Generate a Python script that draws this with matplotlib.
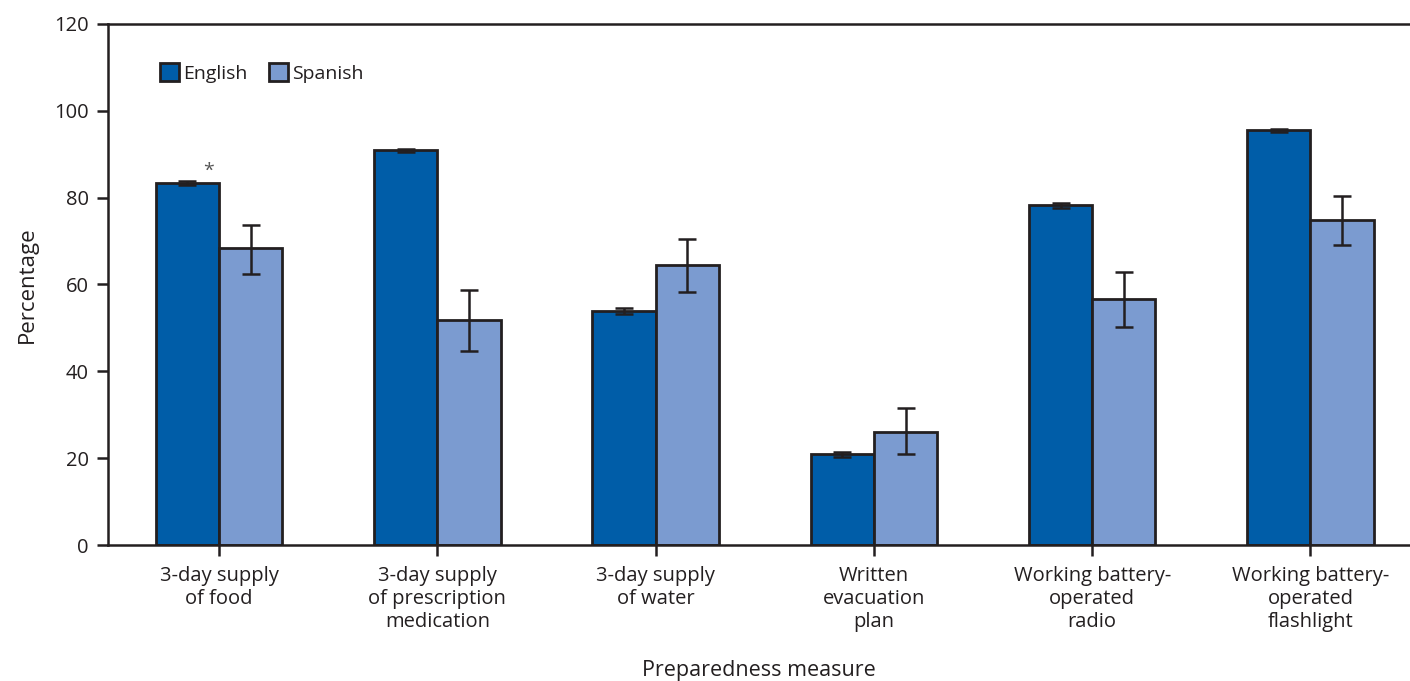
import numpy as np
import matplotlib
matplotlib.use('Agg')
import matplotlib.pyplot as plt

plt.rcParams['font.family'] = ['Open Sans', 'DejaVu Sans']

categories = ['3-day supply\nof food',
              '3-day supply\nof prescription\nmedication',
              '3-day supply\nof water',
              'Written\nevacuation\nplan',
              'Working battery-\noperated\nradio',
              'Working battery-\noperated\nflashlight']
english = [83.4, 90.9, 53.9, 20.9, 78.2, 95.5]
english_lo = [82.9, 90.6, 53.3, 20.3, 77.7, 95.1]
english_hi = [83.9, 91.2, 54.5, 21.5, 78.7, 95.9]
spanish = [68.3, 51.8, 64.5, 26.0, 56.6, 74.9]
spanish_lo = [62.4, 44.7, 58.2, 20.9, 50.1, 69.1]
spanish_hi = [73.7, 58.8, 70.4, 31.5, 62.8, 80.3]
yticks = [0, 20, 40, 60, 80, 100, 120]

c_en = '#005DA8'
c_sp = '#7B9BD0'
dark = '#231F20'

fig = plt.figure(figsize=(14.1, 6.81), dpi=100)
ax = fig.add_axes([0.0768, 0.1997, 0.9232, 0.7651])

x = np.arange(len(categories))
w = 0.29
en = np.array(english)
sp = np.array(spanish)
en_err = [en - np.array(english_lo), np.array(english_hi) - en]
sp_err = [sp - np.array(spanish_lo), np.array(spanish_hi) - sp]

ax.bar(x - w / 2, en, w, color=c_en, edgecolor=dark, linewidth=2.0, label='English', zorder=2)
ax.bar(x + w / 2, sp, w, color=c_sp, edgecolor=dark, linewidth=2.0, label='Spanish', zorder=2)
ax.errorbar(x - w / 2, en, yerr=en_err, fmt='none', ecolor=dark, elinewidth=1.8,
            capsize=6.5, capthick=1.8, zorder=3)
ax.errorbar(x + w / 2, sp, yerr=sp_err, fmt='none', ecolor=dark, elinewidth=1.8,
            capsize=6.5, capthick=1.8, zorder=3)

# significance marker
ax.text(-0.05, english[0] + 0.8, '*', ha='center', va='bottom', fontsize=14, color='#555555')

ax.set_xlim(-0.507, 5.456)
ax.set_ylim(0, 120)
ax.set_yticks(yticks)
ax.set_xticks(x)
ax.set_xticklabels(categories, fontsize=14.5, color=dark, linespacing=1.2)
ax.tick_params(axis='y', labelsize=14.5, colors=dark, length=8, width=1.8, pad=6)
ax.tick_params(axis='x', length=8, width=1.8, pad=7, colors=dark)

for s in ['left', 'bottom', 'top']:
    ax.spines[s].set_linewidth(1.8)
    ax.spines[s].set_color(dark)
ax.spines['right'].set_visible(False)

ax.set_ylabel('Percentage', fontsize=16, color=dark, labelpad=12)
ax.set_xlabel('Preparedness measure', fontsize=15.5, color=dark, labelpad=20)

leg = ax.legend(loc='upper left', bbox_to_anchor=(0.026, 0.958), ncol=2, frameon=False,
                fontsize=14, handlelength=1.0, handleheight=1.0, handletextpad=0.2,
                columnspacing=1.1)
for t in leg.get_texts():
    t.set_color(dark)

fig.savefig('out.png', dpi=100)
